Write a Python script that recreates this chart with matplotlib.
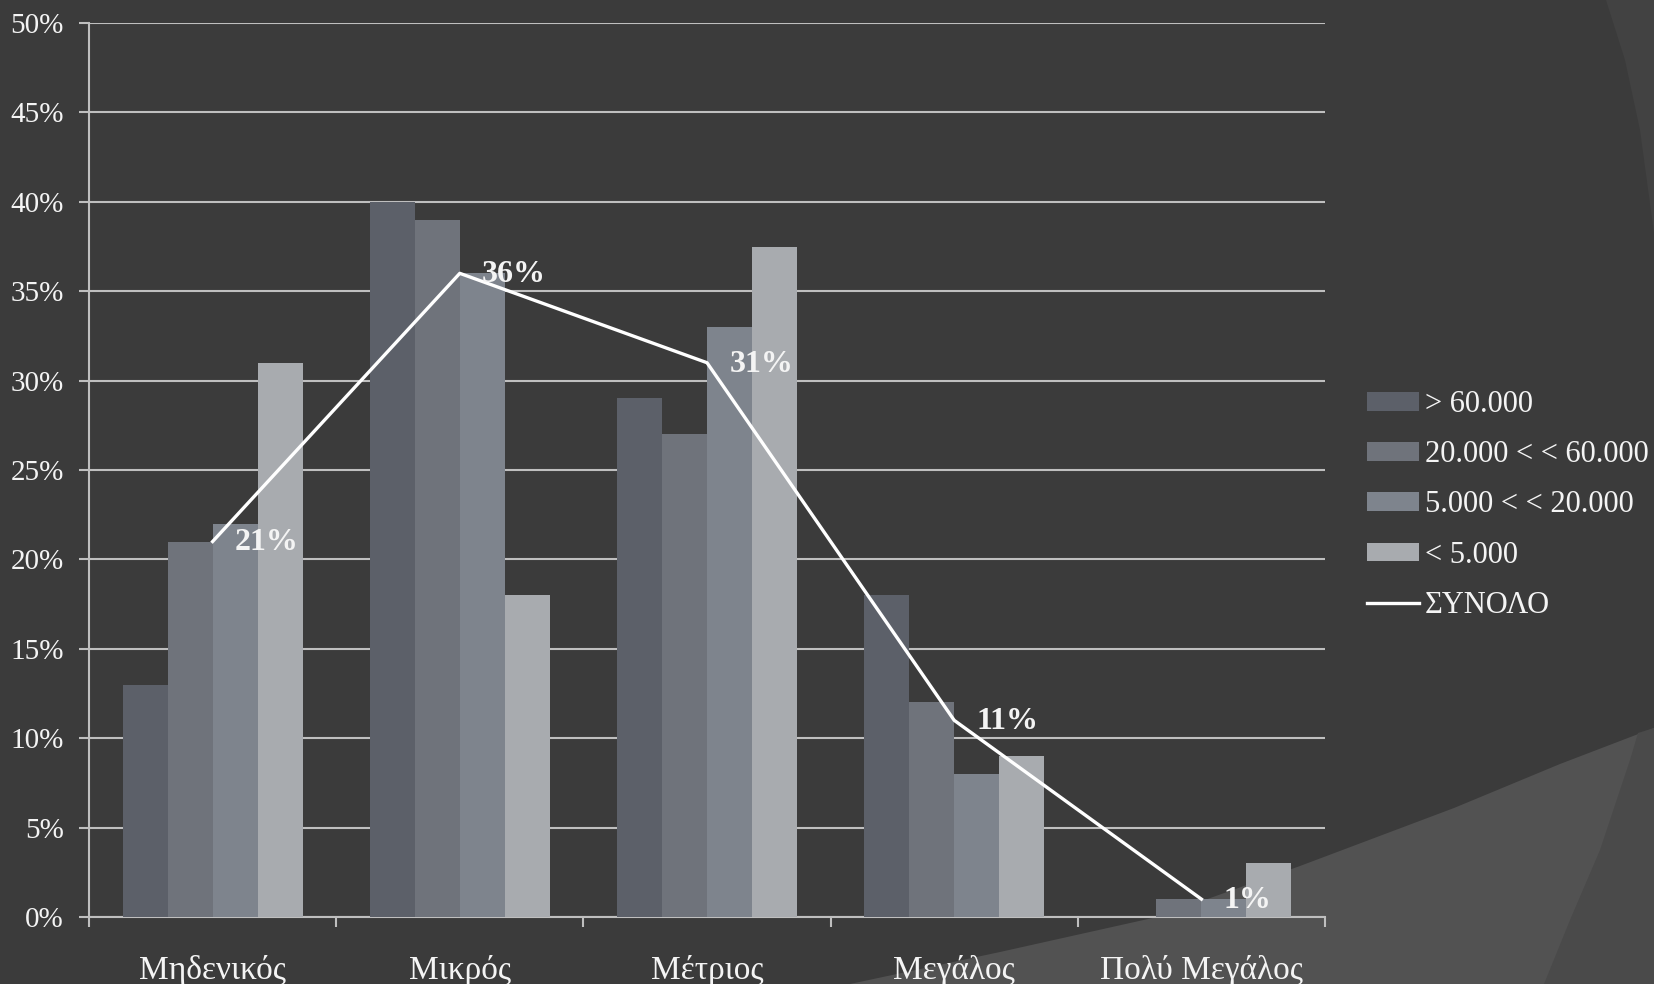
import matplotlib
matplotlib.use("Agg")
import matplotlib.pyplot as plt
from matplotlib.patches import Polygon, Patch
from matplotlib.lines import Line2D
import numpy as np

# data (percentages)
categories = ["Μηδενικός", "Μικρός", "Μέτριος", "Μεγάλος", "Πολύ Μεγάλος"]
series_names = ["> 60.000", "20.000 < < 60.000", "5.000 < < 20.000", "< 5.000"]
over_60k = [13, 40, 29, 18, 0]
from_20k_60k = [21, 39, 27, 12, 1]
from_5k_20k = [22, 36, 33, 8, 1]
under_5k = [31, 18, 37.5, 9, 3]
total_name = "ΣΥΝΟΛΟ"
total = [21, 36, 31, 11, 1]

bar_colors = ["#5c6069", "#6f737b", "#7e848d", "#a8abaf"]
bg = "#3b3b3b"
grid_c = "#bfbfbf"
txt_c = "#f4f4f4"

plt.rcParams["font.family"] = ["Liberation Serif", "DejaVu Serif"]

W, H = 1654, 984
fig = plt.figure(figsize=(W / 100, H / 100), dpi=100, facecolor=bg)

# slide theme decoration behind the chart (pixel coords of the slide)
def fpoly(pts, color):
    p = Polygon([(px / W, 1 - py / H) for px, py in pts], closed=True,
                transform=fig.transFigure, facecolor=color, edgecolor="none", zorder=-1)
    fig.patches.append(p)

fpoly([(1606, 0), (1625, 60), (1640, 130), (1654, 233), (1654, 0)], "#424242")
fpoly([(850, 984), (1000, 952), (1157, 917), (1300, 866), (1454, 808), (1560, 764),
       (1654, 728), (1654, 984)], "#525252")
fpoly([(1638, 733), (1630, 760), (1600, 850), (1570, 920), (1544, 984), (1654, 984),
       (1654, 728)], "#4a4a4a")

ax = fig.add_axes([89 / W, 1 - 917 / H, (1325 - 89) / W, (917 - 23) / H])
ax.set_facecolor("none")

x = np.arange(len(categories))
w = 0.182
series = [over_60k, from_20k_60k, from_5k_20k, under_5k]
for i, vals in enumerate(series):
    ax.bar(x + (i - 1.5) * w, vals, width=w, color=bar_colors[i], zorder=3,
           label=series_names[i])

ax.plot(x, total, color="white", lw=2.4, zorder=4)
for xi, v in zip(x, total):
    ax.annotate(f"{v}%", (xi, v), xytext=(16, -1), textcoords="offset points",
                ha="left", va="center", color=txt_c, fontsize=23, fontweight="bold",
                zorder=5)

ax.set_xlim(-0.5, len(categories) - 0.5)
ax.set_ylim(0, 50)
yt = np.arange(0, 51, 5)
ax.set_yticks(yt)
ax.set_yticklabels([f"{t}%" for t in yt])
for t in yt:
    ax.axhline(t, color=grid_c, lw=1.5, zorder=1)

ax.set_xticks(x)
ax.set_xticklabels(categories)
ax.set_xticks(np.arange(-0.5, len(categories), 1), minor=True)
ax.tick_params(axis="x", which="major", length=0, pad=27, labelsize=24, labelcolor=txt_c)
ax.tick_params(axis="x", which="minor", length=7, width=1.5, color=grid_c, direction="out")
ax.tick_params(axis="y", length=7, width=1.5, color=grid_c, pad=11, labelsize=21,
               labelcolor=txt_c)

for s in ["top", "right"]:
    ax.spines[s].set_visible(False)
for s in ["left", "bottom"]:
    ax.spines[s].set_color(grid_c)
    ax.spines[s].set_linewidth(1.5)

handles = [Patch(facecolor=c, edgecolor="none") for c in bar_colors]
handles.append(Line2D([0], [0], color="white", lw=2.4))
fig.legend(handles, series_names + [total_name], loc="center left",
           bbox_to_anchor=(1367 / W, 1 - 505 / H), frameon=False,
           fontsize=22, labelcolor=txt_c, handlelength=1.7, handleheight=0.55,
           handletextpad=0.2, labelspacing=0.69, borderaxespad=0, borderpad=0)

fig.savefig("out.png", dpi=100, facecolor=bg)
